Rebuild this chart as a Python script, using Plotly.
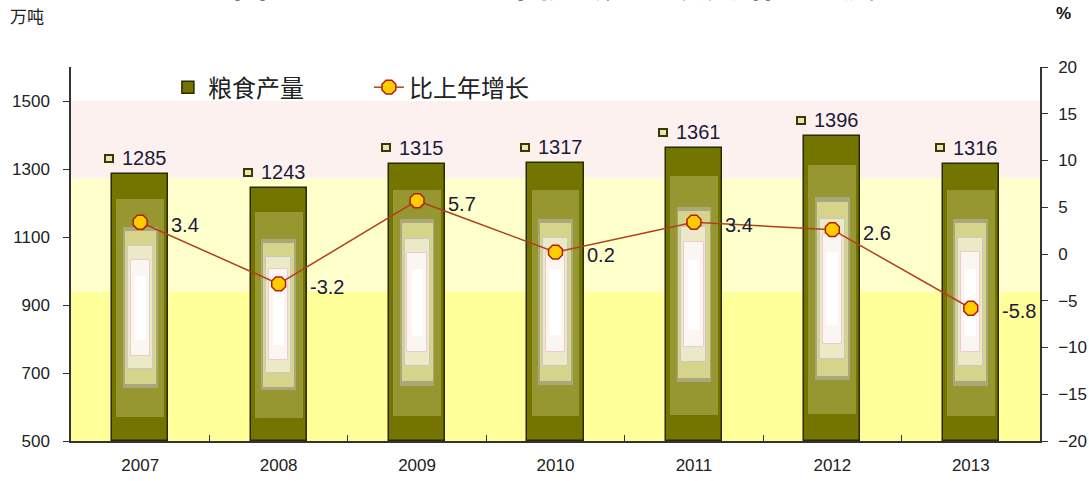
import plotly.graph_objects as go

# ---------------- data ----------------
years = ["2007", "2008", "2009", "2010", "2011", "2012", "2013"]
grain_output = [1285, 1243, 1315, 1317, 1361, 1396, 1316]   # 万吨
growth_rate = [3.4, -3.2, 5.7, 0.2, 3.4, 2.6, -5.8]          # %
left_ticks = [500, 700, 900, 1100, 1300, 1500]
right_ticks = [-20, -15, -10, -5, 0, 5, 10, 15, 20]

title_text = "<b>图1　 2007-2013年粮食产量及其增长速度</b>"
bar_name = "粮食产量"
line_name = "比上年增长"

# ---------------- style ----------------
Y_BASE = 500
xs = list(range(len(years)))
FONT = "Liberation Sans, Arial, sans-serif"
CJK = "Noto Sans CJK SC, sans-serif"
TXT = "#1a1a3a"

fig = go.Figure()

# outer olive bar
fig.add_trace(go.Bar(
    x=xs, y=[v - Y_BASE for v in grain_output], base=Y_BASE, width=0.405,
    name=bar_name, marker=dict(color="#747400", line=dict(color="#2a2a00", width=1.5)),
    hoverinfo="skip"))

# decorative inner layers (proportional to bar height)
layers = [
    (0.09, 0.905, 0.345, "#979732", "#979732", 0),
    (0.20, 0.80, 0.25, "#a8a87c", "#a8a87c", 0),
    (0.215, 0.785, 0.225, "#d6d48a", "#d6d48a", 0),
    (0.27, 0.73, 0.18, "#ebe9c6", "#c8c8c8", 1),
    (0.32, 0.68, 0.14, "#fbf6f2", "#f0caca", 1),
    (0.38, 0.62, 0.08, "#ffffff", "#ffffff", 0),
]
for lo, hi, w, col, lcol, lw in layers:
    fig.add_trace(go.Bar(
        x=xs,
        y=[(hi - lo) * (v - Y_BASE) for v in grain_output],
        base=[Y_BASE + lo * (v - Y_BASE) for v in grain_output],
        width=w, showlegend=False, hoverinfo="skip",
        marker=dict(color=col, line=dict(color=lcol, width=lw))))

# growth line
fig.add_trace(go.Scatter(
    x=xs, y=growth_rate, yaxis="y2", mode="lines+markers", name=line_name,
    line=dict(color="#b0401c", width=1.5),
    marker=dict(symbol="octagon", size=15, color="#ffcc00",
                line=dict(color="#b02000", width=1.5))))

annotations = []
# bar value labels with legend-key squares
for i, v in enumerate(grain_output):
    annotations.append(dict(x=i, y=v, xref="x", yref="y", text=str(v),
                            showarrow=False, xanchor="left", yanchor="middle",
                            xshift=-20, yshift=16,
                            font=dict(family=FONT, size=20, color=TXT)))
    annotations.append(dict(x=i, y=v, xref="x", yref="y", text="&nbsp;",
                            showarrow=False, width=6, height=5, borderpad=0,
                            bgcolor="#e6e6b8", bordercolor="#3a3a00", borderwidth=2,
                            xanchor="center", yanchor="middle",
                            xshift=-31, yshift=16, font=dict(size=4)))
# growth labels
for i, g in enumerate(growth_rate):
    annotations.append(dict(x=i, y=g, xref="x", yref="y2", text=str(g),
                            showarrow=False, xanchor="left", yanchor="middle",
                            xshift=29, yshift=-3,
                            font=dict(family=FONT, size=20, color=TXT)))

# unit labels and title
annotations.append(dict(x=0, y=1, xref="paper", yref="paper", text="万吨",
                        showarrow=False, xanchor="left", yanchor="bottom",
                        xshift=-63, yshift=37, font=dict(family=CJK, size=17, color="#222")))
annotations.append(dict(x=1, y=1, xref="paper", yref="paper", text="<b>%</b>",
                        showarrow=False, xanchor="left", yanchor="bottom",
                        xshift=14, yshift=42, font=dict(family=FONT, size=17, color="#111")))
annotations.append(dict(x=0, y=1, xref="paper", yref="paper", text=title_text,
                        showarrow=False, xanchor="left", yanchor="bottom",
                        xshift=160, yshift=58, font=dict(family=CJK, size=34, color="#000")))

shapes = [
    dict(type="rect", xref="paper", yref="y", x0=0, x1=1, y0=500, y1=940,
         fillcolor="#ffff99", line=dict(width=0), layer="below"),
    dict(type="rect", xref="paper", yref="y", x0=0, x1=1, y0=940, y1=1273,
         fillcolor="#ffffcc", line=dict(width=0), layer="below"),
    dict(type="rect", xref="paper", yref="y", x0=0, x1=1, y0=1273, y1=1500,
         fillcolor="#fdf1ef", line=dict(width=0), layer="below"),
]

fig.update_layout(
    width=1089, height=481,
    margin=dict(l=71, r=49, t=67, b=40, autoexpand=False),
    paper_bgcolor="white", plot_bgcolor="white",
    barmode="overlay", bargap=0,
    showlegend=True,
    legend=dict(orientation="h", x=0.100, y=0.945, xanchor="left", yanchor="middle",
                font=dict(family=CJK, size=24, color="#222"),
                bgcolor="rgba(0,0,0,0)", entrywidth=156, traceorder="normal"),
    shapes=shapes, annotations=annotations,
    xaxis=dict(range=[-0.5, len(years) - 0.5], tickvals=xs, ticktext=years,
               showline=True, linecolor="#333", linewidth=1.5, ticks="",
               showgrid=False, zeroline=False, automargin=False,
               ticklabelstandoff=8,
               tickfont=dict(family=FONT, size=17, color="#222"),
               minor=dict(tickvals=[i + 0.5 for i in xs[:-1]], ticks="inside",
                          ticklen=6, tickcolor="#333", tickwidth=1)),
    yaxis=dict(range=[500, 1600], tickvals=left_ticks, showline=True,
               linecolor="#333", linewidth=1.5, ticks="outside", ticklen=6,
               tickcolor="#333", showgrid=False, zeroline=False, automargin=False,
               tickfont=dict(family=FONT, size=17, color="#222"),
               ticklabelstandoff=10),
    yaxis2=dict(range=[-20, 20], tickvals=right_ticks, overlaying="y", side="right",
                showline=True, linecolor="#333", linewidth=1.5, ticks="outside",
                ticklen=6, tickcolor="#333", showgrid=False, zeroline=False,
                automargin=False,
                tickfont=dict(family=FONT, size=17, color="#222"),
                ticklabelstandoff=7),
)

fig.write_html("out.html", config={"displayModeBar": False},
               post_script="document.body.style.margin='0';document.body.style.overflow='hidden';")
